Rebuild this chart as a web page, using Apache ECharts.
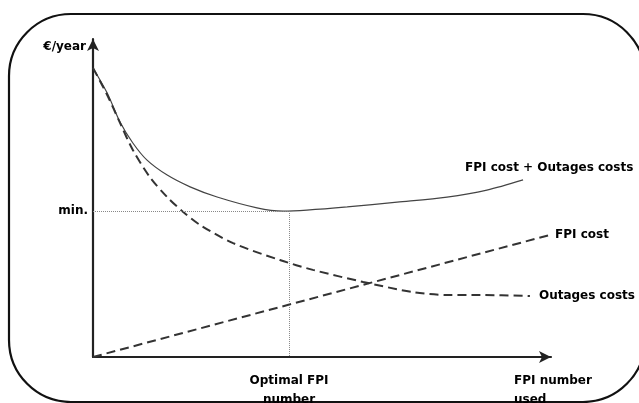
<!DOCTYPE html>
<html>
<head>
<meta charset="utf-8">
<script src="https://cdn.jsdelivr.net/npm/echarts@6/dist/echarts.min.js"></script>
<style>
html,body{margin:0;padding:0;background:#fff;}
#c{width:639px;height:403px;}
</style>
</head>
<body>
<div id="c"></div>
<script>
// Data (abstract units)
const outagesCost = [[0,90.9],[3.1,82.4],[5.9,73.6],[8.7,65.1],[12.4,56.6],[16.2,50.3],[19.7,45.6],[23.4,41.5],[30.6,35.8],[40.8,30.5],[48,27.4],[59,23.6],[69.9,20.4],[77.3,19.5],[84.5,19.5],[95.4,19.2]];
const fpiCost = [[0,0],[99.8,38.4]];
const totalCost = [[0,90.9],[3.1,83],[5.9,73.9],[8.7,67.3],[11.8,61.9],[16.2,57.2],[21.2,53.5],[27.1,50.3],[35.8,46.9],[41.5,45.9],[46.7,46.2],[55.5,47.2],[66.4,48.7],[77.3,50.3],[86,52.5],[93.9,55.7]];
const optimalX = 42.8;
const minY = 45.9;
const seriesNames = ['FPI cost + Outages costs', 'FPI cost', 'Outages costs'];
const axisNames = ['FPI number\nused', '€/year'];
const markLabels = ['min.', 'Optimal FPI\nnumber'];

const FONT = 'DejaVu Sans';
const txt = {color:'#000', fontFamily:FONT, fontWeight:'bold', fontSize:12};

const chart = echarts.init(document.getElementById('c'), null, {renderer:'canvas'});
chart.setOption({
  animation:false,
  backgroundColor:'#fff',
  graphic:[{
    type:'rect', z:-10, silent:true,
    shape:{x:9,y:14,width:636,height:388,r:62},
    style:{fill:'none',stroke:'#111',lineWidth:2.2}
  }],
  grid:{left:93,right:88,top:39,bottom:46,containLabel:false,outerBoundsMode:'none'},
  xAxis:{
    type:'value', min:0, max:100,
    axisLine:{show:true,onZero:false,symbol:['none','arrow'],symbolSize:[9,12],lineStyle:{color:'#222',width:2.2}},
    axisTick:{show:false}, axisLabel:{show:false}, splitLine:{show:false},
    name:axisNames[0], nameLocation:'end', nameGap:-37,
    nameTextStyle:Object.assign({}, txt, {align:'left',verticalAlign:'top',lineHeight:19,padding:[14,0,0,0]})
  },
  yAxis:{
    type:'value', min:0, max:100,
    axisLine:{show:true,onZero:false,symbol:['none','arrow'],symbolSize:[9,12],lineStyle:{color:'#222',width:2.2}},
    axisTick:{show:false}, axisLabel:{show:false}, splitLine:{show:false},
    name:axisNames[1], nameLocation:'end', nameGap:-8,
    nameTextStyle:Object.assign({}, txt, {align:'right',verticalAlign:'middle',padding:[0,7,0,0]})
  },
  series:[
    {
      name:seriesNames[0], type:'line', data:totalCost, smooth:0.3,
      symbol:'none', lineStyle:{color:'#444',width:1.2},
      endLabel:{show:true, formatter:'{a}', distance:0, offset:[-58,-12], ...txt},
      markLine:{
        silent:true, symbol:'none', animation:false,
        lineStyle:{color:'#888',width:1,type:'dotted'},
        data:[
          [{coord:[0,minY], label:{show:true, position:'start', distance:5, formatter:markLabels[0], ...txt}},{coord:[optimalX,minY]}],
          [{coord:[optimalX,minY], label:{show:true, position:'end', distance:14, formatter:markLabels[1], lineHeight:19, ...txt}},{coord:[optimalX,0]}]
        ]
      }
    },
    {
      name:seriesNames[1], type:'line', data:fpiCost,
      symbol:'none', lineStyle:{color:'#333',width:2,type:[9,5]},
      endLabel:{show:true, formatter:'{a}', distance:5, ...txt}
    },
    {
      name:seriesNames[2], type:'line', data:outagesCost, smooth:0.3,
      symbol:'none', lineStyle:{color:'#333',width:2,type:[9,5]},
      endLabel:{show:true, formatter:'{a}', distance:9, ...txt}
    }
  ]
});
</script>
</body>
</html>
